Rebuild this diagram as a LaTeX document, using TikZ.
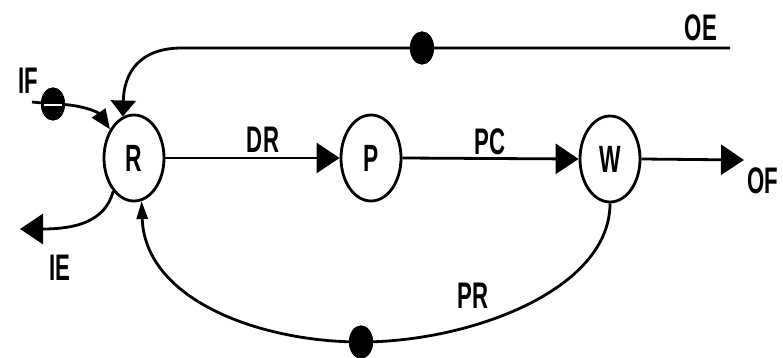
\documentclass[tikz,border=0pt]{standalone}
\usepackage{fontspec}
\setmainfont{Liberation Sans}
\usetikzlibrary{shapes.geometric,arrows.meta}
\newcommand{\lb}[1]{\scalebox{0.6}[1]{\bfseries #1}}
\begin{document}
\begin{tikzpicture}[x=1pt,y=-1pt,
  line width=2.8pt,
  stock/.style={ellipse,draw,line width=2.8pt,minimum width=60pt,minimum height=86pt,inner sep=0pt,
    font=\fontsize{38}{38}\selectfont},
  dot/.style={ellipse,fill=black,draw=none,minimum width=24pt,minimum height=33pt,inner sep=0pt},
  lbl/.style={inner sep=0pt,font=\fontsize{37}{37}\selectfont},
  big/.style={-{Triangle[length=23pt,width=30pt]}},
  mid/.style={-{Triangle[length=16pt,width=25pt]}},
  thin/.style={-{Triangle[length=20pt,width=16pt]}},
  small/.style={-{Triangle[length=18pt,width=11pt]}}]
\useasboundingbox (0,0) rectangle (783,358);
% stocks
\node[stock] (R) at (134,158) {\raisebox{-6pt}{\lb{R}}};
\node[stock] (P) at (371,158) {\raisebox{-6pt}{\lb{P}}};
\node[stock] (W) at (610,159) {\raisebox{-6pt}{\lb{W}}};
% dots
\node[dot] (dOE) at (422,48) {};
\node[dot] (dIF) at (53,104) {};
\node[dot] (dPR) at (361,342) {};
% free ends
\coordinate (oeend) at (730,48);
\coordinate (oebend) at (182,48);
\coordinate (ofend) at (744,160);
\coordinate (ifstart) at (32,102);
\coordinate (ieend) at (20,229);
% flows
\draw[big] (R.east) -- (P.west);
\draw[big] (P.east) -- (W.west);
\draw[big] (W.east) -- (ofend);
\draw[mid] (oeend) -- (dOE.center) -- (oebend) .. controls (140,48) and (124,72) .. (R.105);
\draw[thin] (ifstart) -- (dIF.center) .. controls (80,104) and (98,112) .. (R.130);
\draw[big] (R.238) .. controls (105,222) and (75,229) .. (ieend);
\draw[small] (W.270) .. controls (610,290) and (470,342) .. (dPR.center) .. controls (260,342) and (145,300) .. (R.280);
% redraw dots on top
\node[dot] at (dOE) {};
\node[dot] at (dIF) {};
\node[dot] at (dPR) {};
\draw[white,line width=1.2pt] ([xshift=-9pt,yshift=-1pt]dIF.center) -- ([xshift=9pt,yshift=-1pt]dIF.center);
% labels
\node[lbl] (lDR) at (263,140) {\lb{DR}};
\node[lbl] (lPC) at (490,142) {\lb{PC}};
\node[lbl] (lOF) at (763,181) {\lb{OF}};
\node[lbl] (lOE) at (701,28) {\lb{OE}};
\node[lbl] (lIF) at (28,81) {\lb{IF}};
\node[lbl] (lIE) at (60,268) {\lb{IE}};
\node[lbl] (lPR) at (473,296) {\lb{PR}};
\end{tikzpicture}
\end{document}
